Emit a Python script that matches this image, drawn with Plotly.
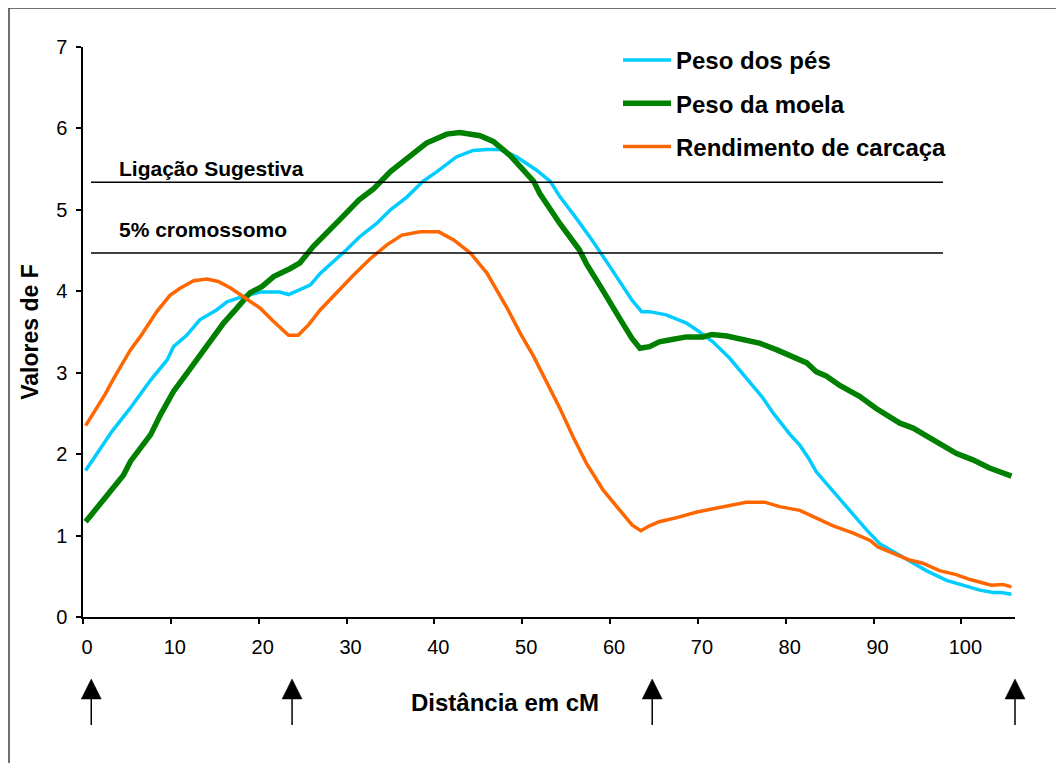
import plotly.graph_objects as go

# ---- data ----
pes_x = [0.3, 2.3, 3.3, 5.2, 7.7, 9.6, 10.3, 11.8, 13.3, 15.2, 16.4, 18.3, 20.2, 22.4, 23.4,
         24.7, 25.9, 27.0, 28.5, 30.0, 31.5, 33.4, 35.0, 36.9, 38.7, 40.3, 42.5, 44.4, 46.0,
         47.5, 49.4, 51.6, 53.2, 54.3, 56.0, 58.0, 60.0, 61.5, 62.5, 63.6, 64.5, 66.4, 68.7,
         70.2, 71.7, 73.6, 75.5, 77.4, 78.6, 80.5, 81.6, 82.6, 83.5, 85.4, 87.5, 89.2, 90.7,
         92.6, 94.1, 96.0, 98.3, 100.2, 102.1, 103.6, 104.5, 105.7]
pes_y = [1.80, 2.11, 2.28, 2.54, 2.91, 3.16, 3.32, 3.46, 3.65, 3.77, 3.87, 3.94, 3.99, 3.99, 3.96,
         4.02, 4.08, 4.22, 4.36, 4.51, 4.67, 4.83, 5.00, 5.16, 5.35, 5.47, 5.65, 5.73, 5.74,
         5.74, 5.65, 5.49, 5.35, 5.16, 4.92, 4.62, 4.30, 4.05, 3.89, 3.75, 3.75, 3.71, 3.61,
         3.50, 3.38, 3.18, 2.93, 2.69, 2.50, 2.24, 2.11, 1.95, 1.78, 1.54, 1.29, 1.07, 0.90,
         0.78, 0.68, 0.57, 0.45, 0.39, 0.33, 0.30, 0.30, 0.28]

moela_x = [0.3, 2.5, 4.6, 5.4, 7.7, 8.8, 10.3, 11.8, 13.2, 14.5, 16.0, 17.5, 19.0, 20.4, 21.7,
           23.6, 24.7, 26.2, 28.1, 29.6, 31.4, 33.1, 35.0, 36.9, 39.1, 41.4, 42.9, 45.2, 46.7,
           48.6, 50.1, 51.3, 52.0, 53.2, 54.3, 56.5, 57.3, 58.9, 60.2, 61.3, 62.5, 63.4, 64.5,
           65.6, 67.2, 68.7, 70.6, 71.6, 73.3, 75.2, 77.1, 79.0, 80.8, 82.4, 83.5, 84.6, 86.2,
           88.4, 90.3, 93.0, 94.5, 96.8, 99.4, 101.3, 103.2, 105.7]
moela_y = [1.17, 1.46, 1.74, 1.91, 2.24, 2.48, 2.77, 2.99, 3.20, 3.40, 3.61, 3.79, 3.98, 4.06, 4.18,
           4.28, 4.35, 4.55, 4.77, 4.92, 5.12, 5.26, 5.47, 5.63, 5.82, 5.93, 5.95, 5.91, 5.84,
           5.67, 5.49, 5.35, 5.20, 5.00, 4.83, 4.51, 4.34, 4.06, 3.81, 3.63, 3.42, 3.30, 3.32,
           3.38, 3.41, 3.44, 3.44, 3.47, 3.45, 3.41, 3.36, 3.28, 3.19, 3.12, 3.01, 2.96, 2.84,
           2.71, 2.56, 2.38, 2.32, 2.17, 2.01, 1.93, 1.83, 1.73]

carcaca_x = [0.3, 1.4, 2.5, 3.5, 4.4, 5.4, 6.5, 8.4, 9.9, 11.1, 12.6, 14.1, 15.4, 16.8, 18.3,
             20.2, 21.7, 23.4, 24.5, 25.7, 27.0, 28.9, 30.8, 32.7, 34.6, 36.3, 38.4, 40.5, 42.2,
             44.1, 46.0, 48.2, 49.8, 51.3, 52.5, 53.5, 54.3, 55.8, 57.3, 59.2, 61.3, 62.5, 63.5,
             64.5, 65.6, 67.6, 69.9, 71.7, 73.6, 75.5, 77.6, 79.3, 81.6, 83.5, 85.4, 87.7, 89.6,
             90.5, 92.6, 94.1, 95.6, 97.5, 99.4, 101.0, 103.4, 104.7, 105.7]
carcaca_y = [2.35, 2.54, 2.73, 2.93, 3.09, 3.28, 3.44, 3.75, 3.95, 4.04, 4.13, 4.15, 4.12, 4.04, 3.93,
             3.79, 3.63, 3.46, 3.46, 3.59, 3.77, 3.99, 4.20, 4.40, 4.57, 4.69, 4.73, 4.73, 4.63,
             4.47, 4.22, 3.81, 3.48, 3.20, 2.95, 2.75, 2.56, 2.21, 1.89, 1.56, 1.29, 1.13, 1.06,
             1.12, 1.17, 1.22, 1.29, 1.33, 1.375, 1.41, 1.41, 1.355, 1.31, 1.21, 1.12, 1.03, 0.94,
             0.86, 0.77, 0.70, 0.66, 0.57, 0.52, 0.46, 0.39, 0.40, 0.37]

series_names = ["Peso dos pés", "Peso da moela", "Rendimento de carcaça"]
threshold_values = [5.34, 4.47]
threshold_labels = ["Ligação Sugestiva", "5% cromossomo"]
threshold_span = [0.91, 97.9]
marker_positions = [0.94, 23.8, 64.8, 106.1]
x_ticks = [0, 10, 20, 30, 40, 50, 60, 70, 80, 90, 100]
y_ticks = [0, 1, 2, 3, 4, 5, 6, 7]
x_title = "Distância em cM"
y_title = "Valores de F"

FONT = "Arial, Liberation Sans, sans-serif"
X_MAX = 106.1
OFF = 8                      # page body margin
W, H = 1064 - OFF, 763 - OFF
L, T = 83 - OFF, 47 - OFF    # plot area left/top (figure px)
R, B = 49, 146
plot_w = W - L - R
plot_h = H - T - B

def py(pix):   # screenshot y pixel -> paper y
    return ((617 - OFF) - (pix - OFF)) / plot_h

def px(pix):   # screenshot x pixel -> paper x
    return ((pix - OFF) - L) / plot_w

fig = go.Figure()
fig.add_trace(go.Scatter(x=pes_x, y=pes_y, mode="lines", name=series_names[0],
                         legendgroup="g1", line=dict(color="#00CCFF", width=3.5)))
fig.add_trace(go.Scatter(x=moela_x, y=moela_y, mode="lines", name=series_names[1],
                         legendgroup="g2", line=dict(color="#008000", width=5.5)))
fig.add_trace(go.Scatter(x=carcaca_x, y=carcaca_y, mode="lines", name=series_names[2],
                         legendgroup="g3", line=dict(color="#FF6600", width=3.5)))

# threshold lines + labels
label_y = [5.51, 4.76]
for val, lab, ly in zip(threshold_values, threshold_labels, label_y):
    fig.add_shape(type="line", xref="x", yref="y", x0=threshold_span[0], x1=threshold_span[1],
                  y0=val, y1=val, line=dict(color="black", width=1.5))
    fig.add_annotation(x=3.9, y=ly, xref="x", yref="y", text=lab, showarrow=False,
                       xanchor="left", yanchor="middle",
                       font=dict(family=FONT, size=21, color="black", weight="bold"))

# position arrows below the axis (paper coords so they are not clipped)
half = 10 / plot_w
for pos in marker_positions:
    xp = pos / X_MAX
    fig.add_shape(type="line", xref="paper", yref="paper", x0=xp, x1=xp, y0=py(697), y1=py(725),
                  line=dict(color="black", width=1.5))
    fig.add_shape(type="path", xref="paper", yref="paper",
                  path=f"M{xp-half},{py(699)} L{xp+half},{py(699)} L{xp},{py(679)} Z",
                  fillcolor="black", line=dict(color="black", width=0.5))

# x-axis title (placed left of centre as in the reference)
fig.add_annotation(x=px(505), y=py(702), xref="paper", yref="paper", text=x_title,
                   showarrow=False, xanchor="center", yanchor="middle",
                   font=dict(family=FONT, size=24, color="black", weight="bold"))

# outer frame (left & top visible)
fx = px(9)
fy = py(8)
fig.add_shape(type="line", xref="paper", yref="paper", x0=fx, x1=fx, y0=fy, y1=py(790),
              line=dict(color="#404040", width=1.5))
fig.add_shape(type="line", xref="paper", yref="paper", x0=fx, x1=px(1090), y0=fy, y1=fy,
              line=dict(color="#404040", width=1.5))

fig.update_layout(
    width=W, height=H,
    margin=dict(l=L, r=R, t=T, b=B, autoexpand=False),
    paper_bgcolor="white", plot_bgcolor="white",
    font=dict(family=FONT, color="black"),
    showlegend=True,
    legend=dict(x=px(618), y=py(38), xanchor="left", yanchor="top",
                font=dict(family=FONT, size=24, color="black", weight="bold"),
                tracegroupgap=9, bgcolor="rgba(0,0,0,0)", itemwidth=48),
    xaxis=dict(range=[0, X_MAX], tickvals=x_ticks, showgrid=False, zeroline=False,
               showline=True, linecolor="black", linewidth=1.5, ticks="outside", ticklen=5,
               tickcolor="black", tickwidth=1.5, ticklabelstandoff=6, ticklabelshift=4,
               tickfont=dict(family=FONT, size=20, color="black")),
    yaxis=dict(range=[0, 7], tickvals=y_ticks, showgrid=False, zeroline=False,
               showline=True, linecolor="black", linewidth=1.5, ticks="outside", ticklen=5,
               tickcolor="black", tickwidth=1.5, ticklabelstandoff=5,
               tickfont=dict(family=FONT, size=20, color="black"),
               title=dict(text=y_title, standoff=11,
                          font=dict(family=FONT, size=23, color="black", weight="bold"))),
)

fig.write_html("out.html")
